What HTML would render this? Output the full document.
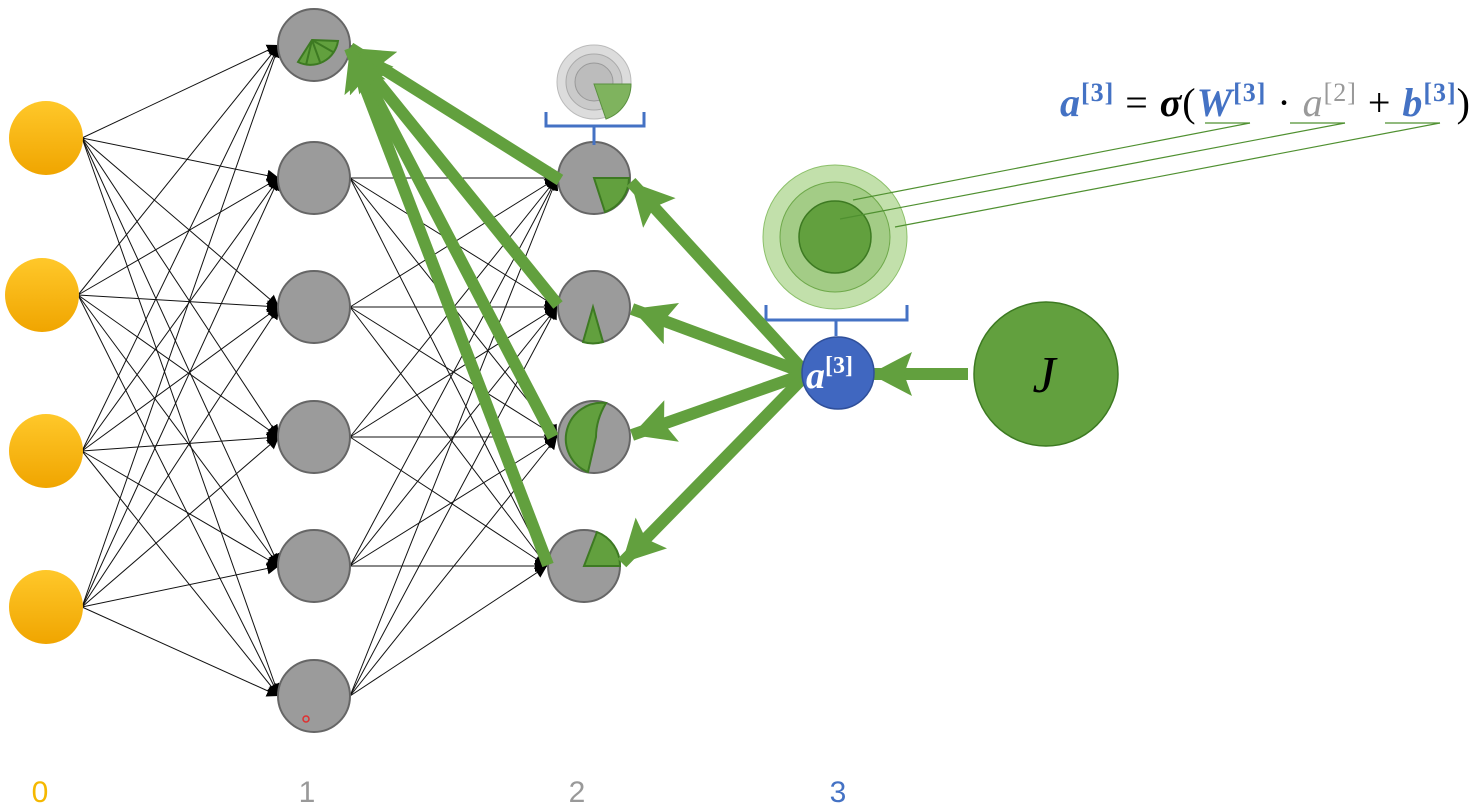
<!DOCTYPE html>
<html><head><meta charset="utf-8"><style>
html,body{margin:0;padding:0;background:#fff;}
svg{display:block;}
</style></head><body>
<svg id="s" width="1477" height="808" viewBox="0 0 1477 808" xmlns="http://www.w3.org/2000/svg">
<defs>
<linearGradient id="og" x1="0" y1="0" x2="0" y2="1">
<stop offset="0" stop-color="#ffc82a"/><stop offset="1" stop-color="#f0a500"/></linearGradient>
<marker id="bk" markerUnits="userSpaceOnUse" markerWidth="14" markerHeight="14" refX="12" refY="6" orient="auto">
<path d="M0,0 L12,6 L0,12 z" fill="#000"/></marker>
<marker id="gr" markerUnits="userSpaceOnUse" markerWidth="48" markerHeight="48" refX="42" refY="22" orient="auto">
<path d="M0,0 L42,22 L0,44 L8,22 z" fill="#62a03e"/></marker>
</defs>
<g id="edges" stroke="#111" stroke-width="1"></g>

<g fill="url(#og)">
<circle cx="46" cy="138" r="37"/><circle cx="42" cy="295" r="37"/>
<circle cx="46" cy="451" r="37"/><circle cx="46" cy="607" r="37"/>
</g>
<g fill="#9b9b9b" stroke="#666" stroke-width="2">
<circle cx="314" cy="45" r="36"/><circle cx="314" cy="178" r="36"/>
<circle cx="314" cy="307" r="36"/><circle cx="314" cy="437" r="36"/>
<circle cx="314" cy="566" r="36"/><circle cx="314" cy="696" r="36"/>
</g>
<path d="M312,40 L338,41 A28,28 0 0 1 298,62 Z" fill="#62a03e" stroke="#3d7a22" stroke-width="2"/>
<path d="M312,40 L306,65 M312,40 L320,62 M312,40 L333,52" stroke="#3d7a22" stroke-width="2"/>
<circle cx="306" cy="719" r="3" fill="none" stroke="#e03030" stroke-width="1.5"/>
<g fill="#9b9b9b" stroke="#666" stroke-width="2">
<circle cx="594" cy="178" r="36"/><circle cx="594" cy="307" r="36"/>
<circle cx="594" cy="437" r="36"/><circle cx="584" cy="566" r="36"/>
</g>
<path d="M594,178 L629,178 A36,36 0 0 1 605,212 Z" fill="#62a03e" stroke="#3d7a22" stroke-width="2"/>
<path d="M593,307 L583,342 A36,36 0 0 0 603,342 Z" fill="#62a03e" stroke="#3d7a22" stroke-width="2"/>
<path d="M606,403 Q596,420 596,437 L588,472 A36,36 0 0 1 606,403 Z" fill="#62a03e" stroke="#3d7a22" stroke-width="2"/>
<path d="M584,566 L620,566 A36,36 0 0 0 597,532 Z" fill="#62a03e" stroke="#3d7a22" stroke-width="2"/>

<circle cx="594" cy="82" r="37" fill="#dcdcdc" stroke="#bbb"/>
<circle cx="594" cy="82" r="28" fill="#cacaca" stroke="#aaa"/>
<circle cx="594" cy="82" r="19" fill="#bcbcbc" stroke="#999"/>
<path d="M594,84 L631,84 A37,37 0 0 1 606,119 Z" fill="#7fb35e" stroke="#5a9040" stroke-width="1"/>
<path d="M546,112 V126 H644 V112 M594,126 V145" fill="none" stroke="#4472c4" stroke-width="3"/>

<circle cx="835" cy="237" r="72" fill="#c2e0ab" stroke="#8cc06a"/>
<circle cx="835" cy="237" r="55" fill="#a3cc86" stroke="#6ea84a"/>
<circle cx="835" cy="237" r="36" fill="#62a03e" stroke="#3d7a22" stroke-width="1.5"/>
<path d="M766,305 V320 H907 V305 M836,320 V336" fill="none" stroke="#4472c4" stroke-width="3"/>
<g stroke="#4f9030" stroke-width="1.2">
<line x1="853" y1="200" x2="1250" y2="123"/>
<line x1="840" y1="219" x2="1345" y2="123"/>
<line x1="895" y1="227" x2="1440" y2="123"/>
<line x1="1205" y1="123" x2="1250" y2="123"/>
<line x1="1290" y1="123" x2="1345" y2="123"/>
<line x1="1385" y1="123" x2="1440" y2="123"/>
</g>

<g stroke="#62a03e" stroke-width="12" marker-end="url(#gr)">
<line x1="560" y1="180" x2="350" y2="48"/>
<line x1="558" y1="305" x2="350" y2="48"/>
<line x1="553" y1="437" x2="350" y2="48"/>
<line x1="548" y1="565" x2="350" y2="48"/>
<line x1="805" y1="372" x2="631" y2="182"/>
<line x1="805" y1="373" x2="632" y2="309"/>
<line x1="805" y1="374" x2="632" y2="435"/>
<line x1="805" y1="376" x2="622" y2="563"/>
<line x1="968" y1="374" x2="870" y2="374"/>
</g>

<circle cx="838" cy="373" r="36" fill="#4067c0" stroke="#2f4f9a" stroke-width="1.5"/>
<text x="806" y="388" font-family="Liberation Serif, serif" font-weight="bold" font-style="italic" font-size="38" fill="#fff">a<tspan font-size="24" dy="-15" font-style="normal">[3]</tspan></text>
<circle cx="1046" cy="374" r="72" fill="#62a03e" stroke="#3d7a22" stroke-width="1.5"/>
<text x="1044" y="392" text-anchor="middle" font-family="Liberation Serif, serif" font-style="italic" font-size="52" fill="#000">J</text>

<text x="1060" y="116" textLength="410" lengthAdjust="spacing" font-family="Liberation Serif, serif" font-size="40" fill="#000"><tspan fill="#4472c4" font-weight="bold" font-style="italic">a</tspan><tspan fill="#4472c4" font-weight="bold" font-size="26" dy="-15">[3]</tspan><tspan dy="15"> = </tspan><tspan font-weight="bold" font-style="italic">σ</tspan>(<tspan fill="#4472c4" font-weight="bold" font-style="italic">W</tspan><tspan fill="#4472c4" font-weight="bold" font-size="26" dy="-15">[3]</tspan><tspan dy="15"> · </tspan><tspan fill="#999" font-style="italic">a</tspan><tspan fill="#999" font-size="26" dy="-15">[2]</tspan><tspan dy="15"> + </tspan><tspan fill="#4472c4" font-weight="bold" font-style="italic">b</tspan><tspan fill="#4472c4" font-weight="bold" font-size="26" dy="-15">[3]</tspan><tspan dy="15">)</tspan></text>

<g font-family="Liberation Sans, sans-serif" font-size="30" text-anchor="middle">
<text x="40" y="802" fill="#f5b800">0</text>
<text x="307" y="802" fill="#999">1</text>
<text x="577" y="802" fill="#999">2</text>
<text x="838" y="802" fill="#4472c4">3</text>
</g>
<script>
var ns="http://www.w3.org/2000/svg",g=document.getElementById("edges");
var inp=[[82,138],[78,295],[82,451],[82,607]];
var l1=[45,178,307,437,566,696],l2=[[558,178],[558,307],[558,437],[548,566]];
function ln(a,b,c,d){var e=document.createElementNS(ns,"line");e.setAttribute("x1",a);e.setAttribute("y1",b);e.setAttribute("x2",c);e.setAttribute("y2",d);e.setAttribute("marker-end","url(#bk)");g.appendChild(e);}
inp.forEach(function(p){l1.forEach(function(y){ln(p[0],p[1],279,y);});});
l1.forEach(function(y){l2.forEach(function(q){ln(350,y,q[0]-1,q[1]);});});
</script>
</svg>
</body></html>
